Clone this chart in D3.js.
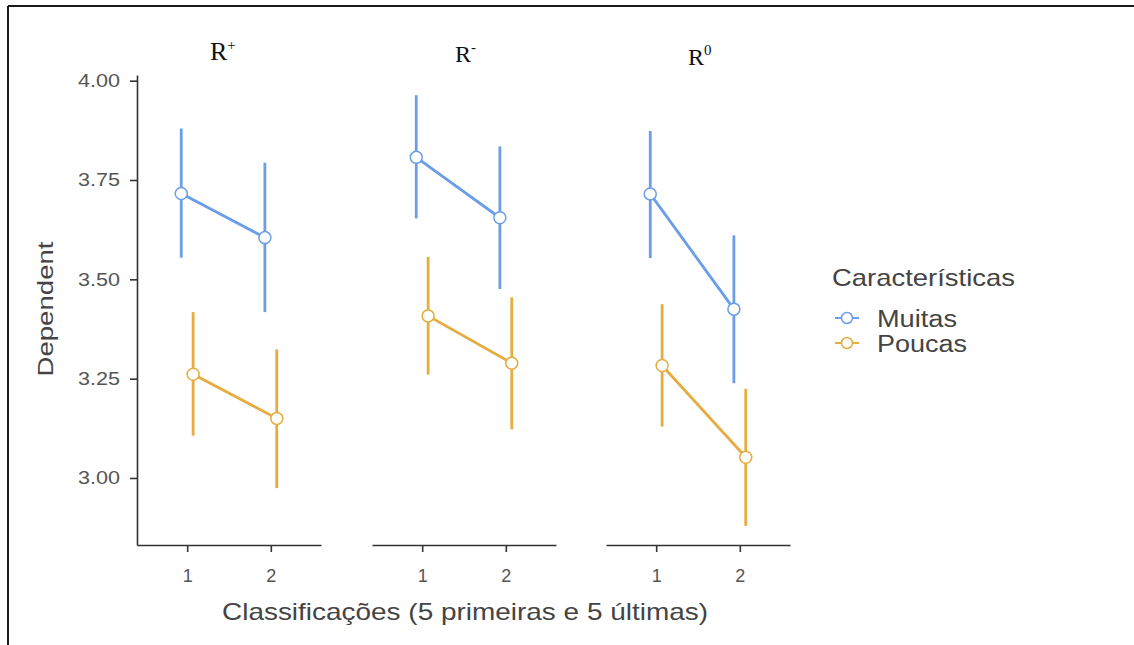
<!DOCTYPE html>
<html>
<head>
<meta charset="utf-8">
<script src="https://cdn.jsdelivr.net/npm/d3@7"></script>
<style>
  html, body { margin: 0; padding: 0; background: #fff; }
  svg { display: block; }
</style>
</head>
<body>
<svg id="chart" width="1134" height="645"></svg>
<script>
// ---- data ----
const panels = ["R+", "R-", "R0"];
const panelBase = ["R", "R", "R"];
const panelSup = ["+", "-", "0"];
const groups = ["Muitas", "Poucas"];
const xCategories = [1, 2];
const yTicks = [3.00, 3.25, 3.50, 3.75, 4.00];

// values per panel: [level1, level2]
const muitasMean  = [[3.716, 3.605], [3.807, 3.655], [3.715, 3.425]];
const muitasLower = [[3.558, 3.421], [3.657, 3.479], [3.557, 3.242]];
const muitasUpper = [[3.876, 3.790], [3.960, 3.831], [3.870, 3.607]];
const poucasMean  = [[3.261, 3.150], [3.408, 3.289], [3.283, 3.052]];
const poucasLower = [[3.110, 2.978], [3.264, 3.126], [3.133, 2.883]];
const poucasUpper = [[3.414, 3.320], [3.553, 3.451], [3.434, 3.221]];

const colors = ["#6B9DE8", "#E6AC40"];

// ---- layout ----
const svg = d3.select("#chart");
const sans = "'Liberation Sans', Arial, sans-serif";
const serif = "'Liberation Serif', 'Times New Roman', serif";

// frame (top and left lines)
svg.append("line").attr("x1", 8).attr("x2", 1134).attr("y1", 6).attr("y2", 6)
  .attr("stroke", "#1a1a1a").attr("stroke-width", 2);
svg.append("line").attr("x1", 8).attr("x2", 8).attr("y1", 6).attr("y2", 645)
  .attr("stroke", "#1a1a1a").attr("stroke-width", 2);

const panelTop = 75, panelBottom = 545, panelWidth = 184;
const panelX0 = [137, 372, 606];
const y = d3.scaleLinear().domain([2.8313, 4.0143]).range([panelBottom, panelTop]);
const dodge = 0.071;

const means = [muitasMean, poucasMean];
const lowers = [muitasLower, poucasLower];
const uppers = [muitasUpper, poucasUpper];

panels.forEach((p, pi) => {
  const x = d3.scaleLinear().domain([0.4, 2.6]).range([panelX0[pi], panelX0[pi] + panelWidth]);
  const g = svg.append("g");

  // x axis
  const xa = g.append("g").attr("transform", `translate(0,${panelBottom})`)
    .call(d3.axisBottom(x).tickValues(xCategories).tickFormat(d3.format("d"))
      .tickSize(7).tickPadding(17).tickSizeOuter(0));
  xa.select(".domain").attr("stroke", "#333").attr("stroke-width", 1.6);
  xa.selectAll(".tick line").attr("stroke", "#333").attr("stroke-width", 1.6);
  xa.selectAll(".tick text").style("font-family", sans).style("font-size", "18px")
    .attr("fill", "#555");

  if (pi === 0) {
    const ya = g.append("g").attr("transform", `translate(${panelX0[0]},0)`)
      .call(d3.axisLeft(y).tickValues(yTicks).tickFormat(d3.format(".2f"))
        .tickSize(7).tickPadding(10).tickSizeOuter(0));
    ya.select(".domain").attr("stroke", "#333").attr("stroke-width", 1.6);
    ya.selectAll(".tick line").attr("stroke", "#333").attr("stroke-width", 1.6);
    ya.selectAll(".tick text").style("font-family", sans).style("font-size", "18px")
      .attr("fill", "#555").attr("textLength", 42).attr("lengthAdjust", "spacingAndGlyphs");
  }

  // series
  groups.forEach((grp, gi) => {
    const off = gi === 0 ? -dodge : dodge;
    const pts = xCategories.map((c, ci) => ({
      x: c + off, m: means[gi][pi][ci], lo: lowers[gi][pi][ci], hi: uppers[gi][pi][ci]
    }));
    const col = colors[gi];
    // error bars
    g.selectAll(null).data(pts).enter().append("line")
      .attr("x1", d => x(d.x)).attr("x2", d => x(d.x))
      .attr("y1", d => y(d.lo)).attr("y2", d => y(d.hi))
      .attr("stroke", col).attr("stroke-width", 2.8).attr("stroke-linecap", "square");
    // connecting line
    g.append("path").datum(pts)
      .attr("d", d3.line().x(d => x(d.x)).y(d => y(d.m)))
      .attr("fill", "none").attr("stroke", col).attr("stroke-width", 2.8);
    // points
    g.selectAll(null).data(pts).enter().append("circle")
      .attr("cx", d => x(d.x)).attr("cy", d => y(d.m)).attr("r", 6)
      .attr("fill", "#fff").attr("stroke", col).attr("stroke-width", 1.5);
  });
});

// panel titles
const titleX = [210, 455, 688];
const titleY = [60, 62, 65];
const titleSize = [26, 24, 24];
panels.forEach((p, pi) => {
  const t = svg.append("text").attr("x", titleX[pi]).attr("y", titleY[pi])
    .attr("font-family", serif).attr("font-size", titleSize[pi]).attr("fill", "#111");
  t.append("tspan").text(panelBase[pi]);
  t.append("tspan").attr("font-size", 15).attr("dy", -10).text(panelSup[pi]);
});

// axis titles
svg.append("text").attr("x", 222).attr("y", 620)
  .attr("font-family", sans).attr("font-size", 24).attr("fill", "#444")
  .attr("textLength", 486).attr("lengthAdjust", "spacingAndGlyphs")
  .text("Classificações (5 primeiras e 5 últimas)");

svg.append("text")
  .attr("transform", "translate(53,309) rotate(-90)")
  .attr("text-anchor", "middle")
  .attr("font-family", sans).attr("font-size", 22).attr("fill", "#444")
  .attr("textLength", 135).attr("lengthAdjust", "spacingAndGlyphs")
  .text("Dependent");

// legend
svg.append("text").attr("x", 832).attr("y", 286)
  .attr("font-family", sans).attr("font-size", 24).attr("fill", "#444")
  .attr("textLength", 183).attr("lengthAdjust", "spacingAndGlyphs")
  .text("Características");
const legY = [318, 343];
const legLen = [80, 90];
groups.forEach((grp, gi) => {
  svg.append("line").attr("x1", 835).attr("x2", 859).attr("y1", legY[gi]).attr("y2", legY[gi])
    .attr("stroke", colors[gi]).attr("stroke-width", 2);
  svg.append("circle").attr("cx", 847).attr("cy", legY[gi]).attr("r", 5.5)
    .attr("fill", "#fff").attr("stroke", colors[gi]).attr("stroke-width", 1.5);
  svg.append("text").attr("x", 877).attr("y", legY[gi] + 8.5)
    .attr("font-family", sans).attr("font-size", 23).attr("fill", "#444")
    .attr("textLength", legLen[gi]).attr("lengthAdjust", "spacingAndGlyphs")
    .text(grp);
});
</script>
</body>
</html>
